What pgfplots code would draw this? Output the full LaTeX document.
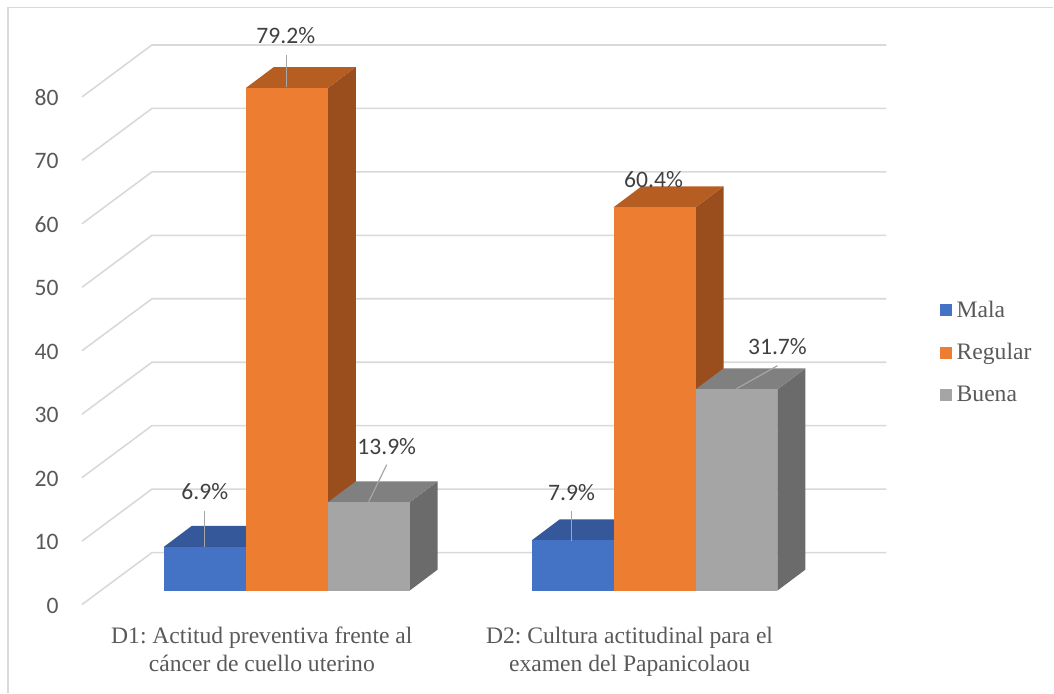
\documentclass[border=0pt]{standalone}
\usepackage{pgfplots}
\pgfplotsset{compat=1.18}
\usepackage{fontspec}
\setmainfont{Liberation Serif}
\newfontfamily\calib{Carlito}
\frenchspacing
\definecolor{blueF}{HTML}{4472C4}
\definecolor{blueT}{HTML}{34589A}
\definecolor{blueS}{HTML}{2E4F8C}
\definecolor{orangeF}{HTML}{ED7D31}
\definecolor{orangeT}{HTML}{B65D22}
\definecolor{orangeS}{HTML}{9A4E1E}
\definecolor{grayF}{HTML}{A5A5A5}
\definecolor{grayT}{HTML}{808080}
\definecolor{grayS}{HTML}{6B6B6B}
\definecolor{gridc}{HTML}{D9D9D9}
\definecolor{txt}{HTML}{595959}
\definecolor{dtxt}{HTML}{404040}
\definecolor{leader}{HTML}{A6A6A6}
% 3D bar: #1 left x (px), #2 value, #3 front, #4 top, #5 side colour
\newcommand\bardd[5]{%
\pgfmathsetmacro\xa{#1}%
\pgfmathsetmacro\xb{#1+82}%
\pgfmathsetmacro\xc{#1+110}%
\pgfmathsetmacro\xd{#1+28}%
\pgfmathsetmacro\vt{#2+3.307}%
\edef\doit{%
\noexpand\addplot[fill=#5,draw=none] coordinates {(\xb,0) (\xc,3.307) (\xc,\vt) (\xb,#2)} --cycle;
\noexpand\addplot[fill=#4,draw=none] coordinates {(\xa,#2) (\xb,#2) (\xc,\vt) (\xd,\vt)} --cycle;
\noexpand\addplot[fill=#3,draw=none] coordinates {(\xa,0) (\xb,0) (\xb,#2) (\xa,#2)} --cycle;
}\doit}
\newcommand\Ypx[1]{(591-#1)/6.35}
\begin{document}
\begin{tikzpicture}
\begin{axis}[
  x=0.5pt, y=3.175pt,
  xmin=0, xmax=1054,
  ymin=-16.063, ymax=93.071,
  hide axis, clip=false,
  font=\fontsize{11.8pt}{14pt}\selectfont,
]
\path (rel axis cs:0,0) rectangle (rel axis cs:1,1);
% frame
\draw[gridc, line width=0.75pt] (axis cs:8,{\Ypx{693}}) -- (axis cs:8,{\Ypx{7.5}}) -- (axis cs:1054,{\Ypx{7.5}});
% gridlines: front end (82, v-2.205), back wall (152, v+5.984) to (887, v+5.984)
\addplot[gridc, line width=0.8pt] coordinates {(82,-2.205) (152,5.984) (887,5.984)};
\addplot[gridc, line width=0.8pt] coordinates {(82,7.795) (152,15.984) (887,15.984)};
\addplot[gridc, line width=0.8pt] coordinates {(82,17.795) (152,25.984) (887,25.984)};
\addplot[gridc, line width=0.8pt] coordinates {(82,27.795) (152,35.984) (887,35.984)};
\addplot[gridc, line width=0.8pt] coordinates {(82,37.795) (152,45.984) (887,45.984)};
\addplot[gridc, line width=0.8pt] coordinates {(82,47.795) (152,55.984) (887,55.984)};
\addplot[gridc, line width=0.8pt] coordinates {(82,57.795) (152,65.984) (887,65.984)};
\addplot[gridc, line width=0.8pt] coordinates {(82,67.795) (152,75.984) (887,75.984)};
\addplot[gridc, line width=0.8pt] coordinates {(82,77.795) (152,85.984) (887,85.984)};
% y tick labels
\pgfplotsinvokeforeach{0,10,...,80}{
  \node[anchor=base east, inner sep=0pt, text=txt, font=\calib\fontsize{11.8pt}{14pt}\selectfont] at (axis cs:59,{#1-3.55}) {#1};
}
% D1 bars
\bardd{164}{6.9}{blueF}{blueT}{blueS}
\bardd{246}{79.2}{orangeF}{orangeT}{orangeS}
\bardd{328}{13.9}{grayF}{grayT}{grayS}
% D2 bars
\bardd{532}{7.9}{blueF}{blueT}{blueS}
\bardd{614}{60.4}{orangeF}{orangeT}{orangeS}
\bardd{696}{31.7}{grayF}{grayT}{grayS}
% leader lines
\draw[leader, line width=0.6pt] (axis cs:287,{\Ypx{55}}) -- (axis cs:287,{\Ypx{87}});
\draw[leader, line width=0.6pt] (axis cs:205,{\Ypx{511}}) -- (axis cs:205,{\Ypx{547}});
\draw[leader, line width=0.6pt] (axis cs:387,{\Ypx{465}}) -- (axis cs:369,{\Ypx{502}});
\draw[leader, line width=0.6pt] (axis cs:778,{\Ypx{366}}) -- (axis cs:737,{\Ypx{389}});
\draw[leader, line width=0.6pt] (axis cs:572,{\Ypx{511}}) -- (axis cs:572,{\Ypx{541}});
% data labels
\begin{scope}[every node/.style={anchor=base, inner sep=0pt, text=dtxt, font=\calib\fontsize{11.8pt}{14pt}\selectfont}]
\node at (axis cs:286,{\Ypx{44}}) {79.2\%};
\node at (axis cs:205,{\Ypx{500}}) {6.9\%};
\node at (axis cs:387,{\Ypx{455}}) {13.9\%};
\node at (axis cs:654,{\Ypx{188}}) {60.4\%};
\node at (axis cs:778,{\Ypx{355}}) {31.7\%};
\node at (axis cs:572,{\Ypx{501}}) {7.9\%};
\end{scope}
% category labels
\begin{scope}[every node/.style={anchor=base, inner sep=0pt, text=txt, font=\fontsize{11.8pt}{14pt}\selectfont}]
\node at (axis cs:262,{\Ypx{644}}) {D1: Actitud preventiva frente al};
\node at (axis cs:262,{\Ypx{672}}) {cáncer de cuello uterino};
\node at (axis cs:630,{\Ypx{644}}) {D2: Cultura actitudinal para el};
\node at (axis cs:630,{\Ypx{672}}) {examen del Papanicolaou};
\end{scope}
% legend
\fill[blueF] (axis cs:941,{\Ypx{304}}) rectangle (axis cs:953,{\Ypx{316.5}});
\fill[orangeF] (axis cs:941,{\Ypx{347}}) rectangle (axis cs:953,{\Ypx{359.5}});
\fill[grayF] (axis cs:941,{\Ypx{389}}) rectangle (axis cs:953,{\Ypx{401.5}});
\begin{scope}[every node/.style={anchor=base west, inner sep=0pt, text=txt, font=\fontsize{11.8pt}{14pt}\selectfont}]
\node at (axis cs:957,{\Ypx{318}}) {Mala};
\node at (axis cs:957,{\Ypx{360}}) {Regular};
\node at (axis cs:957,{\Ypx{402}}) {Buena};
\end{scope}
\end{axis}
\end{tikzpicture}
\end{document}
